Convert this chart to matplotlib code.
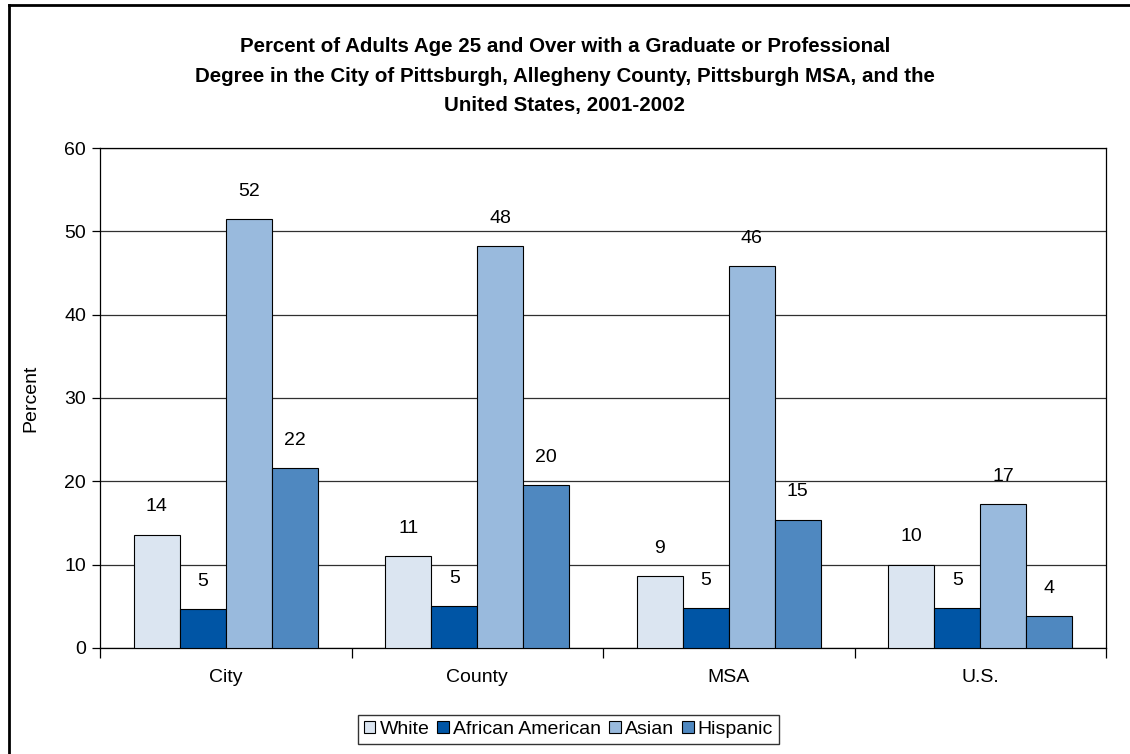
import numpy as np
import matplotlib
matplotlib.use("Agg")
import matplotlib.pyplot as plt
from matplotlib.lines import Line2D

plt.rcParams['font.family'] = ['Liberation Sans', 'DejaVu Sans']

# data
areas = ['City', 'County', 'MSA', 'U.S.']
groups = ['White', 'African American', 'Asian', 'Hispanic']
white = [13.6, 11.0, 8.6, 10.0]
african_american = [4.7, 5.0, 4.75, 4.75]
asian = [51.5, 48.25, 45.8, 17.3]
hispanic = [21.6, 19.5, 15.4, 3.8]
colors = ['#dbe5f1', '#0055a5', '#99badd', '#4f88c0']

series = [white, african_american, asian, hispanic]
fs = 14

fig = plt.figure(figsize=(11.3, 7.54), dpi=100)
ax = fig.add_axes([0.0885, 0.1406, 0.8903, 0.6631])

x = np.arange(len(areas))
w = 0.1825
for i, (vals, name) in enumerate(zip(series, groups)):
    pos = x + (i - 1.5) * w
    ax.bar(pos, vals, w, color=colors[i], edgecolor='black', linewidth=0.8,
           label=name, zorder=3)
    for p, v in zip(pos, vals):
        ax.annotate(f'{v:.0f}', (p, v), xytext=(0, 20), textcoords='offset points',
                    ha='center', va='center', fontsize=fs)

ax.set_xlim(-0.5, len(areas) - 0.5)
ax.set_ylim(0, 60)
ax.set_yticks(range(0, 61, 10))
ax.yaxis.grid(True, color='#303030', linewidth=0.9, zorder=0)
ax.set_axisbelow(True)

# category separators as ticks, labels in between
ax.set_xticks(np.arange(-0.5, len(areas), 1.0))
ax.set_xticklabels([])
ax.set_xticks(x, minor=True)
ax.set_xticklabels(areas, minor=True, fontsize=fs)
ax.tick_params(axis='x', which='major', direction='out', length=7, width=0.9)
ax.tick_params(axis='x', which='minor', length=0, pad=15)
ax.tick_params(axis='y', direction='out', length=6, width=0.9, labelsize=fs, pad=4)

for s in ax.spines.values():
    s.set_color('black')
    s.set_linewidth(0.9)

ax.set_ylabel('Percent', fontsize=fs, labelpad=18)

fig.text(0.5, 0.899,
         'Percent of Adults Age 25 and Over with a Graduate or Professional\n'
         'Degree in the City of Pittsburgh, Allegheny County, Pittsburgh MSA, and the\n'
         'United States, 2001-2002',
         ha='center', va='center', fontsize=14.8, fontweight='bold', linespacing=1.7)

leg = fig.legend(loc='center', bbox_to_anchor=(0.503, 0.0325), ncol=4,
                 fontsize=fs, frameon=True, fancybox=False, shadow=False,
                 handlelength=0.6, handleheight=0.6, handletextpad=0.22,
                 columnspacing=0.4, borderpad=0.3, borderaxespad=0)
leg.get_frame().set_edgecolor('black')
leg.get_frame().set_linewidth(1.0)

# outer chart border (top and left only visible)
fig.add_artist(Line2D([0.008, 1.0], [0.994, 0.994], color='black', linewidth=2,
                      transform=fig.transFigure))
fig.add_artist(Line2D([0.008, 0.008], [0.0, 0.994], color='black', linewidth=2,
                      transform=fig.transFigure))

fig.savefig('out.png', dpi=100, facecolor='white')
